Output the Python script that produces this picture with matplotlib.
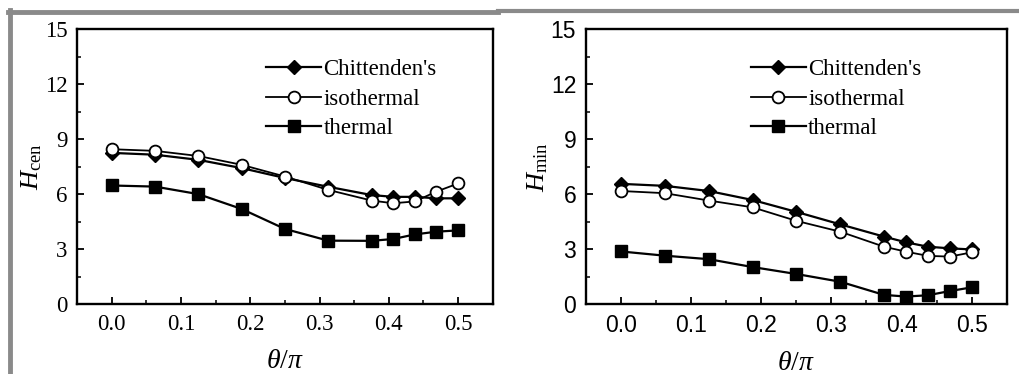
import numpy as np
import matplotlib
matplotlib.use('Agg')
import matplotlib.pyplot as plt
from matplotlib.lines import Line2D
from matplotlib.ticker import MultipleLocator

plt.rcParams['mathtext.fontset'] = 'custom'
plt.rcParams['mathtext.rm'] = 'Liberation Serif'
plt.rcParams['mathtext.it'] = 'Liberation Serif:italic'

theta = [0.0, 0.0625, 0.125, 0.1875, 0.25, 0.3125, 0.375, 0.40625, 0.4375, 0.46875, 0.5]

# left panel: H_cen
cen_chitt = [8.25, 8.15, 7.87, 7.42, 6.88, 6.40, 5.95, 5.85, 5.85, 5.77, 5.77]
cen_iso = [8.45, 8.36, 8.08, 7.60, 6.96, 6.23, 5.65, 5.50, 5.60, 6.14, 6.58]
cen_therm = [6.47, 6.41, 6.00, 5.19, 4.10, 3.46, 3.45, 3.55, 3.80, 3.95, 4.02]

# right panel: H_min
min_chitt = [6.56, 6.45, 6.17, 5.68, 5.03, 4.35, 3.68, 3.37, 3.13, 3.04, 2.98]
min_iso = [6.17, 6.05, 5.65, 5.28, 4.54, 3.95, 3.13, 2.86, 2.63, 2.59, 2.82]
min_therm = [2.87, 2.64, 2.45, 2.02, 1.64, 1.22, 0.50, 0.41, 0.48, 0.71, 0.91]

labels = ["Chittenden's", 'isothermal', 'thermal']

fig = plt.figure(figsize=(10.19, 3.74), dpi=100)

serif = 'Liberation Serif'
sans = 'Liberation Sans'


def draw_panel(rect, series, ylab, tickfont, leg_x):
    ax = fig.add_axes(rect)
    ch, iso, th = series
    ax.plot(theta, ch, '-', color='black', lw=1.6, marker='D', ms=7,
            mfc='black', mec='black', label=labels[0])
    ax.plot(theta, iso, '-', color='black', lw=1.3, marker='o', ms=8.5,
            mfc='white', mec='black', mew=1.3, label=labels[1])
    ax.plot(theta, th, '-', color='black', lw=1.6, marker='s', ms=8,
            mfc='black', mec='black', label=labels[2])
    ax.set_xlim(-0.05, 0.55)
    ax.set_ylim(0, 15)
    ax.set_xticks([0.0, 0.1, 0.2, 0.3, 0.4, 0.5])
    ax.set_yticks([0, 3, 6, 9, 12, 15])
    ax.xaxis.set_minor_locator(MultipleLocator(0.05))
    ax.yaxis.set_minor_locator(MultipleLocator(1.5))
    ax.tick_params(which='both', direction='in', top=False, right=False)
    ax.tick_params(which='major', length=5, width=1.3, labelsize=16.5, pad=7)
    ax.tick_params(which='minor', length=3, width=1.1)
    for lab in ax.get_xticklabels() + ax.get_yticklabels():
        lab.set_fontfamily(tickfont)
    for sp in ax.spines.values():
        sp.set_linewidth(1.7)
    ax.set_xlabel(r'$\theta/\pi$', fontsize=20, labelpad=8)
    ax.set_ylabel(ylab, fontsize=19, labelpad=0)
    ax.legend(loc='upper left', bbox_to_anchor=(leg_x, 0.89), frameon=False,
              prop={'family': serif, 'size': 16.5}, handlelength=2.4,
              handletextpad=0.1, labelspacing=0.36, borderpad=0,
              borderaxespad=0)
    return ax


draw_panel([0.0756, 0.187, 0.408, 0.735], (cen_chitt, cen_iso, cen_therm),
           r'$H_{\mathrm{cen}}$', serif, 0.455)
draw_panel([0.575, 0.187, 0.413, 0.735], (min_chitt, min_iso, min_therm),
           r'$H_{\mathrm{min}}$', sans, 0.392)

# gray frame remnants from the page
gray = '#8a8a8a'
fig.add_artist(Line2D([8 / 1019, 498 / 1019], [1 - 12 / 374, 1 - 12 / 374],
                      color=gray, lw=3.5, transform=fig.transFigure))
fig.add_artist(Line2D([498 / 1019, 1.0], [1 - 10.5 / 374, 1 - 10.5 / 374],
                      color=gray, lw=3.0, transform=fig.transFigure))
fig.add_artist(Line2D([10 / 1019, 10 / 1019], [0, 1 - 10 / 374],
                      color=gray, lw=3.5, transform=fig.transFigure))

fig.savefig('out.png', dpi=100)
